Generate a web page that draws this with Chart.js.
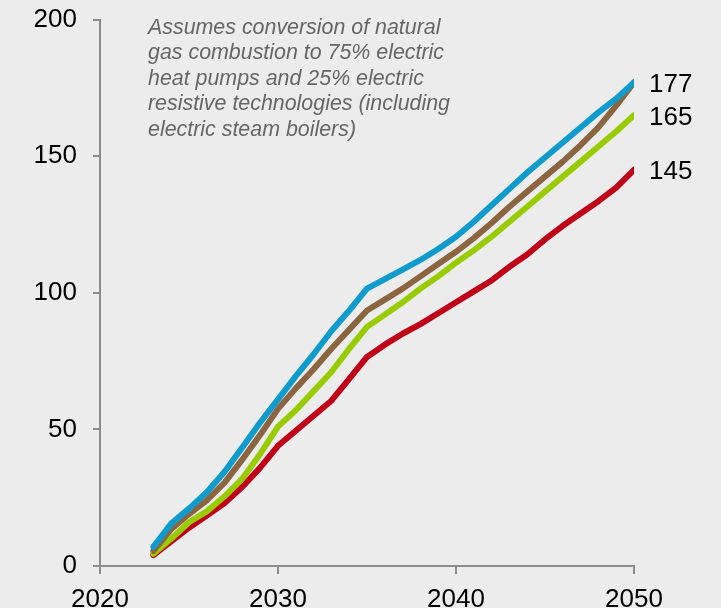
<!DOCTYPE html>
<html>
<head>
<meta charset="utf-8">
<script src="https://cdn.jsdelivr.net/npm/chart.js@4"></script>
<style>
  html, body { margin: 0; padding: 0; background: #ececec; }
  #wrap { width: 721px; height: 608px; position: relative; }
</style>
</head>
<body>
<div id="wrap"><canvas id="c" width="721" height="608"></canvas></div>
<script>
const years = [2023,2024,2025,2026,2027,2028,2029,2030,2031,2032,2033,2034,2035,2036,2037,2038,2039,2040,2041,2042,2043,2044,2045,2046,2047,2048,2049,2050];
const blueSeries  = [7,15.5,21,27,34.5,43.5,52.5,61,69.5,77.5,86,93.5,101.5,105,108.5,112,116,120.5,126,132,138,144,149.5,155,160.5,166,171,177];
const brownSeries = [5.5,13.5,19,24,30.5,39,48,57.5,65,72,79.5,86.5,93.5,97.5,101.5,106,110.5,115,120,125.5,131.5,137,142.5,148,154,160.5,168.5,177];
const greenSeries = [4.5,10,16,20,25.5,32,41,51,57,64,71,79.5,87.5,92,96.5,101.5,106,111,115.5,120.5,126,131.5,137,142.5,148,153.5,159,165];
const redSeries   = [4,9,14,18.5,23,29,36,44,49.5,55,60.5,68.5,76.5,81,85,88.5,92.5,96.5,100.5,104.5,109.5,114,119.5,124.5,129,133.5,138.5,145];
const xTicks = [2020,2030,2040,2050];
const yTicks = [0,50,100,150,200];
const endLabels = ['177', null, '165', '145'];
const noteLines = [
  'Assumes conversion of natural',
  'gas combustion to 75% electric',
  'heat pumps and 25% electric',
  'resistive technologies (including',
  'electric steam boilers)'
];

const seriesList = [blueSeries, brownSeries, greenSeries, redSeries];
const colors = ['#0f9ccc', '#8b6440', '#99cc00', '#c00018'];
const FONT = "'Liberation Sans', Arial, sans-serif";

const datasets = seriesList.map((s, i) => ({
  data: years.map((y, j) => ({ x: y, y: s[j] })),
  borderColor: colors[i],
  borderWidth: 6,
  pointRadius: 0,
  tension: 0,
  borderCapStyle: 'round',
  borderJoinStyle: 'round',
  fill: false
}));

const overlay = {
  id: 'overlay',
  afterDatasetsDraw(chart) {
    const ctx = chart.ctx;
    const xs = chart.scales.x, ys = chart.scales.y;
    ctx.save();
    ctx.font = '26px ' + FONT;
    ctx.fillStyle = '#000';
    ctx.textAlign = 'left';
    ctx.textBaseline = 'middle';
    seriesList.forEach((s, i) => {
      if (!endLabels[i]) return;
      const px = xs.getPixelForValue(years[years.length - 1]);
      const py = ys.getPixelForValue(s[s.length - 1]);
      ctx.fillText(endLabels[i], px + 15, py + 2.5);
    });
    ctx.font = 'italic 21.4px ' + FONT;
    ctx.fillStyle = '#666666';
    ctx.textBaseline = 'alphabetic';
    noteLines.forEach((t, k) => {
      ctx.fillText(t, 148, 34 + k * 25.4);
    });
    ctx.restore();
  }
};

new Chart(document.getElementById('c'), {
  type: 'line',
  data: { datasets },
  options: {
    responsive: false,
    animation: false,
    events: [],
    layout: { padding: { left: 0, top: 19.5, right: 87, bottom: 0 } },
    plugins: { legend: { display: false }, tooltip: { enabled: false } },
    scales: {
      x: {
        type: 'linear',
        min: xTicks[0], max: xTicks[xTicks.length - 1],
        afterBuildTicks: (sc) => { sc.ticks = xTicks.map(v => ({ value: v })); },
        afterFit: (sc) => { sc.height = 42; sc.paddingLeft = 0; sc.paddingRight = 0; },
        grid: { display: true, drawOnChartArea: false, drawTicks: true, tickLength: 8, color: '#8c8c8c', lineWidth: 2 },
        border: { display: true, color: '#8c8c8c', width: 2 },
        ticks: { font: { family: FONT, size: 26 }, color: '#000', padding: 10, maxRotation: 0, autoSkip: false, callback: v => String(v) }
      },
      y: {
        min: yTicks[0], max: yTicks[yTicks.length - 1],
        afterBuildTicks: (sc) => { sc.ticks = yTicks.map(v => ({ value: v })); },
        afterFit: (sc) => { sc.width = 100; sc.paddingTop = 0; sc.paddingBottom = 0; },
        grid: { display: true, drawOnChartArea: false, drawTicks: true, tickLength: 7, color: '#8c8c8c', lineWidth: 2 },
        border: { display: true, color: '#8c8c8c', width: 2 },
        ticks: { font: { family: FONT, size: 26 }, color: '#000', padding: 16, callback: v => String(v) }
      }
    }
  },
  plugins: [overlay]
});
</script>
</body>
</html>
